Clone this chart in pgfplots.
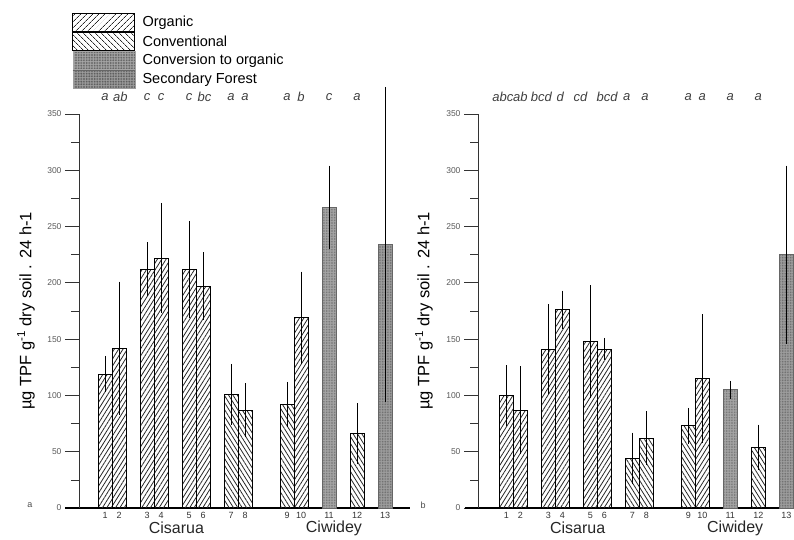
\documentclass[border=0pt]{standalone}
\usepackage{pgfplots}
\pgfplotsset{compat=1.18}
\usepackage{pgfplotstable}
\usepackage{fontspec}
\setmainfont{Liberation Sans}
\usetikzlibrary{patterns,patterns.meta}

% left panel (a)
\pgfplotstableread{
x y e
1 119 12
2 142 55
4 212 20
5 222 45
7 212 39
8 197 26
15 169 37
}\LorgA
\pgfplotstableread{
x y e
10 101 23
11 87 20
14 92 16
19 66 23
}\LconvA
\pgfplotstableread{
x y e
17 267 33
}\LtransA
\pgfplotstableread{
x y e
21 234 136
}\LforA
% right panel (b)
\pgfplotstableread{
x y e
1 100 23
2 87 35
4 141 36
5 176 13
7 148 46
8 141 6
15 115 53
}\LorgB
\pgfplotstableread{
x y e
10 44 19
11 62 20
14 73 12
19 54 16
}\LconvB
\pgfplotstableread{
x y e
17 105 4
}\LtransB
\pgfplotstableread{
x y e
21 225 75
}\LforB

\tikzset{
  sig/.style={font=\fontsize{13}{13}\selectfont\itshape, text=black!75, inner sep=0pt},
  grp/.style={font=\fontsize{16}{16}\selectfont, text=black!85},
}

\pgfplotsset{
  panel/.style={
    x=14pt, y=1.126pt, ymin=0, ymax=350,
    enlargelimits=false, clip=false,
    axis x line=bottom, axis y line=left,
    x axis line style={-, line width=1.3pt, black},
    y axis line style={-, line width=0.7pt, black!80},
    ytick={0,50,...,350}, minor ytick={25,75,...,325},
    tick align=outside, major tick length=14pt, minor tick length=8pt,
    ytick style={line width=0.7pt, black!80},
    minor tick style={line width=0.9pt, black},
    xtick={1,2,4,5,7,8,10,11,14,15,17,19,21},
    xticklabels={1,2,3,4,5,6,7,8,9,10,11,12,13},
    xtick style={draw=none},
    /pgf/number format/assume math mode=true,
    yticklabel style={font=\fontsize{8.5}{9}\selectfont, text=black!65},
    xticklabel style={font=\fontsize{9}{9}\selectfont, text=black!80, inner sep=0pt, anchor=center},
  },
  orgbar/.style={ybar, bar width=14pt, bar shift=0pt, draw=black, line width=0.9pt,
    pattern={Lines[angle=58, distance=3.7pt, line width=0.8pt]}, pattern color=black!85},
  convbar/.style={ybar, bar width=14pt, bar shift=0pt, draw=black, line width=0.9pt,
    pattern={Lines[angle=-58, distance=3.7pt, line width=0.8pt]}, pattern color=black!85},
  transbar/.style={ybar, bar width=14pt, bar shift=0pt, draw=black!60, line width=0.6pt,
    fill=black!35, postaction={pattern={Dots[distance=1.6pt, radius=0.4pt]}, pattern color=black!65}},
  forbar/.style={ybar, bar width=14pt, bar shift=0pt, draw=black!60, line width=0.6pt,
    fill=black!38, postaction={pattern={Dots[distance=1.6pt, radius=0.4pt]}, pattern color=black!68}},
  eb/.style={error bars/.cd, y dir=both, y explicit,
    error bar style={line width=0.9pt, black},
    error mark options={line width=0.9pt, black, mark size=4.5pt}},
}

\begin{document}
\begin{tikzpicture}
\path[use as bounding box] (0,0) rectangle (794pt,539pt);

\begin{axis}[panel, at={(79pt,31pt)}, anchor=south west,
  xmin=-0.86, xmax=22.8,
  xticklabel style={yshift=7pt},
  ylabel={µg TPF g\textsuperscript{-1} dry soil . 24 h-1},
  ylabel style={at={(axis description cs:-0.160,0.5)}, anchor=center, font=\fontsize{16.5}{17}\selectfont},
  legend style={at={(axis description cs:-0.021,1.2563)}, anchor=north west,
    draw=none, fill=none, inner sep=0pt, row sep=0pt, column sep=7pt,
    font=\fontsize{14.5}{15}\selectfont, nodes={inner sep=0pt}, cells={anchor=west}},
]
\addplot[orgbar, legend image code/.code={\fill[pattern={Lines[angle=45, distance=4pt, line width=0.8pt]}, pattern color=black!85] (0pt,-9pt) rectangle (62pt,9pt);}, eb] table[x=x, y=y, y error=e] {\LorgA};
\addlegendentry{Organic}
\addplot[convbar, legend image code/.code={\fill[pattern={Lines[angle=-45, distance=4pt, line width=0.8pt]}, pattern color=black!85] (0pt,-9pt) rectangle (62pt,9pt); \draw[line width=1.3pt] (0pt,9pt) -- (62pt,9pt);}, eb] table[x=x, y=y, y error=e] {\LconvA};
\addlegendentry{Conventional}
\addplot[transbar, legend image code/.code={\fill[black!35, postaction={pattern={Dots[distance=1.6pt, radius=0.4pt]}, pattern color=black!65}] (0pt,-9pt) rectangle (62pt,9pt);}, eb] table[x=x, y=y, y error=e] {\LtransA};
\addlegendentry{Conversion to organic}
\addplot[forbar, legend image code/.code={\fill[black!38, postaction={pattern={Dots[distance=1.6pt, radius=0.4pt]}, pattern color=black!68}] (0pt,-9pt) rectangle (62pt,9pt); \draw[line width=1.3pt] (0pt,9pt) -- (62pt,9pt);}, eb] table[x=x, y=y, y error=e] {\LforA};
\addlegendentry{Secondary Forest}
\draw[line width=1.3pt] (axis cs:-1.86,0) -- (axis cs:-0.86,0);
\node[sig] at (axis cs:1,365) {a};
\node[sig] at (axis cs:2.1,365) {ab};
\node[sig] at (axis cs:4,365) {c};
\node[sig] at (axis cs:5,365) {c};
\node[sig] at (axis cs:7,365) {c};
\node[sig] at (axis cs:8.1,365) {bc};
\node[sig] at (axis cs:10,365) {a};
\node[sig] at (axis cs:11,365) {a};
\node[sig] at (axis cs:14,365) {a};
\node[sig] at (axis cs:15,365) {b};
\node[sig] at (axis cs:17,365) {c};
\node[sig] at (axis cs:19,365) {a};
\node[grp] at (axis cs:6.1,-17.8) {Cisarua};
\node[grp] at (axis cs:17.35,-17.8) {Ciwidey};
\end{axis}

\begin{axis}[panel, at={(478pt,31pt)}, anchor=south west,
  xmin=-1.02, xmax=21.55,
  xticklabel style={yshift=7pt},
  ylabel={µg TPF g\textsuperscript{-1} dry soil . 24 h-1},
  ylabel style={at={(axis description cs:-0.171,0.5)}, anchor=center, font=\fontsize{16.5}{17}\selectfont},
]
\addplot[orgbar, eb] table[x=x, y=y, y error=e] {\LorgB};
\addplot[convbar, eb] table[x=x, y=y, y error=e] {\LconvB};
\addplot[transbar, eb] table[x=x, y=y, y error=e] {\LtransB};
\addplot[forbar, eb] table[x=x, y=y, y error=e] {\LforB};
\draw[line width=1.3pt] (axis cs:-1.95,0) -- (axis cs:-1.02,0);
\node[sig] at (axis cs:0.75,365) {abc};
\node[sig] at (axis cs:2.0,365) {ab};
\node[sig] at (axis cs:3.5,365) {bcd};
\node[sig] at (axis cs:4.85,365) {d};
\node[sig] at (axis cs:6.3,365) {cd};
\node[sig] at (axis cs:8.2,365) {bcd};
\node[sig] at (axis cs:9.6,365) {a};
\node[sig] at (axis cs:10.9,365) {a};
\node[sig] at (axis cs:14,365) {a};
\node[sig] at (axis cs:15,365) {a};
\node[sig] at (axis cs:17,365) {a};
\node[sig] at (axis cs:19,365) {a};
\node[grp] at (axis cs:6.1,-17.8) {Cisarua};
\node[grp] at (axis cs:17.35,-17.8) {Ciwidey};
\end{axis}

\node[font=\fontsize{9}{9}\selectfont, text=black!70] at (30pt,34pt) {a};
\node[font=\fontsize{9}{9}\selectfont, text=black!70] at (423pt,34pt) {b};
\end{tikzpicture}
\end{document}
